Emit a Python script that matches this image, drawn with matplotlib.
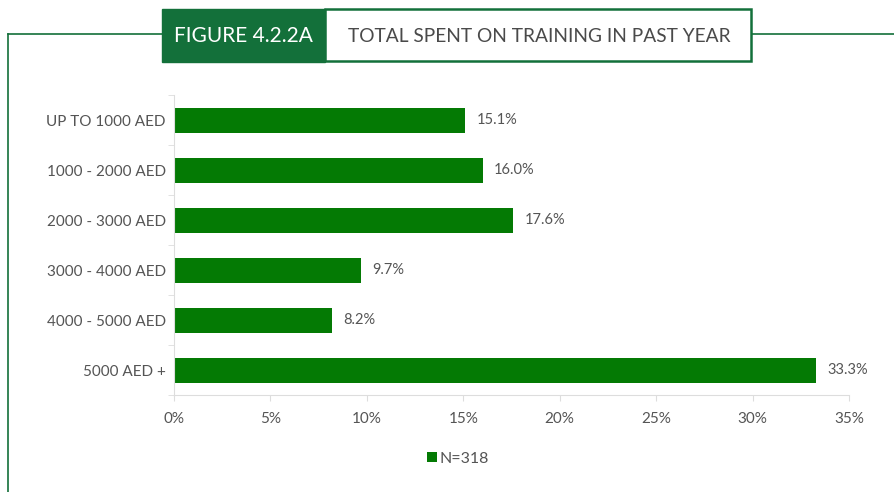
import matplotlib.pyplot as plt
from matplotlib.patches import Rectangle
from matplotlib.lines import Line2D

categories = ['UP TO 1000 AED', '1000 - 2000 AED', '2000 - 3000 AED',
              '3000 - 4000 AED', '4000 - 5000 AED', '5000 AED +']
values = [15.1, 16.0, 17.6, 9.7, 8.2, 33.3]
xticks = [0, 5, 10, 15, 20, 25, 30, 35]
legend_label = 'N=318'
fig_title = 'FIGURE 4.2.2A'
chart_title = 'TOTAL SPENT ON TRAINING IN PAST YEAR'

W, H = 895, 492
bar_green = '#047a04'
head_green = '#13703a'
txt = '#555555'
font = 'Lato'

fig = plt.figure(figsize=(W / 100, H / 100), dpi=100)

def px(x0, y0, x1, y1):
    # pixel box (top-left origin) -> figure fraction rect
    return [x0 / W, 1 - y1 / H, (x1 - x0) / W, (y1 - y0) / H]

# frame lines
fig.add_artist(Line2D([8 / W, 162 / W], [1 - 34 / H] * 2, color=head_green, lw=1.2))
fig.add_artist(Line2D([752 / W, 1], [1 - 34 / H] * 2, color=head_green, lw=1.2))
fig.add_artist(Line2D([8 / W] * 2, [1 - 34 / H, 0], color=head_green, lw=1.2))

# header boxes
r = px(162, 9, 325, 62)
fig.add_artist(Rectangle((r[0], r[1]), r[2], r[3], transform=fig.transFigure,
                         facecolor=head_green, edgecolor=head_green, lw=1))
r = px(325, 9, 751, 61)
fig.add_artist(Rectangle((r[0], r[1]), r[2], r[3], transform=fig.transFigure,
                         facecolor='white', edgecolor=head_green, lw=1.8))
fig.text(243 / W, 1 - 36 / H, fig_title, color='white', fontsize=15, family=font,
         ha='center', va='center')
fig.text(539 / W, 1 - 36 / H, chart_title, color='#4a4a4a', fontsize=13.8, family=font,
         ha='center', va='center')

ax = fig.add_axes(px(174, 95, 849, 395))
ax.barh(range(len(categories)), values, height=0.5, color=bar_green, label=legend_label)
for i, v in enumerate(values):
    ax.text(v + 0.6, i, f'{v:.1f}%', va='center', ha='left', fontsize=10.5,
            color=txt, family=font)

ax.set_ylim(5.5, -0.5)
ax.set_xlim(0, 35)
ax.set_yticks(range(len(categories)))
ax.set_yticklabels(categories, family=font, fontsize=11, color=txt)
ax.set_yticks([i + 0.5 for i in range(-1, len(categories))], minor=True)
ax.set_xticks(xticks)
ax.set_xticklabels([f'{t}%' for t in xticks], family=font, fontsize=11, color=txt)
ax.tick_params(axis='y', which='major', length=0, pad=6)
ax.tick_params(axis='y', which='minor', length=4, color='#dddddd')
ax.tick_params(axis='x', length=4, color='#dddddd', pad=8)
for s in ['top', 'right']:
    ax.spines[s].set_visible(False)
ax.spines['left'].set_color('#dddddd')
ax.spines['bottom'].set_color('#dddddd')

leg = fig.legend(loc='center', bbox_to_anchor=(458 / W, 1 - 459 / H), frameon=False,
                 handlelength=0.6, handleheight=0.6, handletextpad=0.2,
                 prop={'family': font, 'size': 11.5})
for t in leg.get_texts():
    t.set_color(txt)

fig.savefig('out.png', dpi=100, facecolor='white')
